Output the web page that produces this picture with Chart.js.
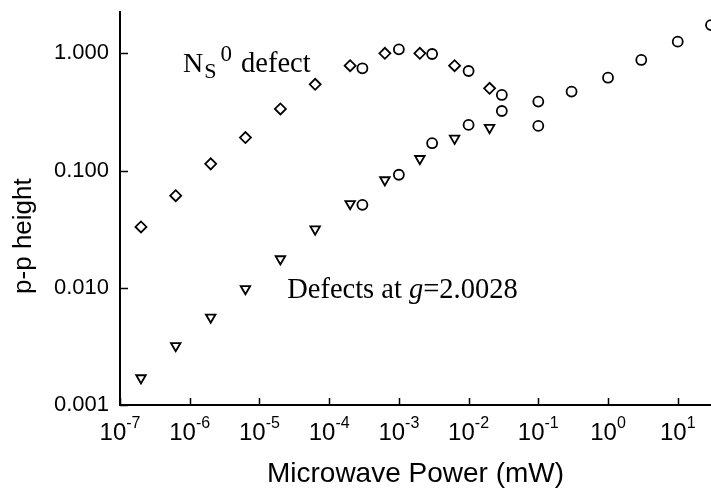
<!DOCTYPE html>
<html>
<head>
<meta charset="utf-8">
<script src="https://cdn.jsdelivr.net/npm/chart.js@4.4.1/dist/chart.umd.min.js"></script>
<style>
  html, body { margin: 0; padding: 0; background: #fff; }
  #wrap { width: 711px; height: 495px; }
</style>
</head>
<body>
<div id="wrap"><canvas id="chart"></canvas></div>
<script>
// Microwave power (mW) for the low-power sweep
const powerLow = [2e-7, 6.3e-7, 2e-6, 6.3e-6, 2e-5, 6.3e-5, 2e-4, 6.3e-4, 2e-3, 6.3e-3, 2e-2];
// p-p height of the Ns0 line (diamonds)
const heightNsLow = [0.033, 0.061, 0.114, 0.191, 0.335, 0.544, 0.784, 1.0, 1.0, 0.784, 0.503];
// p-p height of the g=2.0028 line (triangles)
const heightGLow = [0.0017, 0.0032, 0.0056, 0.0098, 0.0176, 0.0316, 0.052, 0.083, 0.126, 0.188, 0.232];

// high-power sweep (circles)
const powerHigh = [3e-4, 1e-3, 3e-3, 1e-2, 3e-2, 0.1, 0.3, 1, 3, 10, 30];
const heightNsHigh = [0.745, 1.08, 0.986, 0.706, 0.441, 0.387, 0.471, 0.619, 0.877, 1.256, 1.74];
const powerHighG = [3e-4, 1e-3, 3e-3, 1e-2, 3e-2, 0.1];
const heightGHigh = [0.051, 0.092, 0.171, 0.245, 0.322, 0.240];

// decade ticks
const powerTicks = [1e-7, 1e-6, 1e-5, 1e-4, 1e-3, 1e-2, 1e-1, 1, 10];
const powerExponents = ['-7', '-6', '-5', '-4', '-3', '-2', '-1', '0', '1'];
const heightTicks = [0.001, 0.01, 0.1, 1];

// where the labels sit, in data units
const nsLabelAt = [8e-7, 0.69];
const gLabelAt = [2.5e-5, 0.0082];
const yTitleAt = 0.0276;

const pts = (xs, ys) => xs.map((v, i) => ({ x: v, y: ys[i] }));

const SANS = 'Arial, "Liberation Sans", Helvetica, sans-serif';
const SERIF = '"Times New Roman", "Liberation Serif", serif';

const marker = (style, r, extra) => Object.assign({
  pointStyle: style,
  pointRadius: r,
  pointBorderColor: '#000',
  pointBackgroundColor: 'rgba(255,255,255,0)',
  pointBorderWidth: 1.8,
  showLine: false
}, extra || {});

// inward tick marks, the 10^n labels and the y title
const axisMarks = {
  id: 'axisMarks',
  afterDraw(chart) {
    const { ctx, chartArea: a, scales: { x, y } } = chart;
    ctx.save();
    ctx.strokeStyle = '#000';
    ctx.lineWidth = 1.5;
    ctx.beginPath();
    powerTicks.forEach(v => {
      const px = Math.round(x.getPixelForValue(v)) + 0.5;
      ctx.moveTo(px, a.bottom);
      ctx.lineTo(px, a.bottom - 7);
    });
    heightTicks.forEach(v => {
      const py = Math.round(y.getPixelForValue(v)) + 0.5;
      ctx.moveTo(a.left, py);
      ctx.lineTo(a.left + 8, py);
    });
    ctx.stroke();

    ctx.fillStyle = '#000';
    ctx.textBaseline = 'alphabetic';
    powerTicks.forEach((v, i) => {
      const px = x.getPixelForValue(v);
      ctx.font = '24px ' + SANS;
      const wb = ctx.measureText('10').width;
      ctx.font = '16px ' + SANS;
      const we = ctx.measureText(powerExponents[i]).width;
      const left = px - (wb + we) / 2;
      ctx.font = '24px ' + SANS;
      ctx.fillText('10', left, a.bottom + 35);
      ctx.font = '16px ' + SANS;
      ctx.fillText(powerExponents[i], left + wb, a.bottom + 23);
    });

    // y title sits a little below the middle of the axis
    ctx.save();
    ctx.translate(31, y.getPixelForValue(yTitleAt));
    ctx.rotate(-Math.PI / 2);
    ctx.font = '26px ' + SANS;
    ctx.textAlign = 'center';
    ctx.fillText('p-p height', 0, 0);
    ctx.restore();
    ctx.restore();
  }
};

// the "Ns0 defect" and "Defects at g=2.0028" captions
const captions = {
  id: 'captions',
  afterDraw(chart) {
    const { ctx, scales: { x, y } } = chart;
    ctx.save();
    ctx.fillStyle = '#000';
    ctx.textBaseline = 'alphabetic';

    let px = x.getPixelForValue(nsLabelAt[0]);
    let py = y.getPixelForValue(nsLabelAt[1]);
    ctx.font = '28px ' + SERIF;
    ctx.fillText('N', px, py);
    px += ctx.measureText('N').width + 1;
    ctx.font = '22px ' + SERIF;
    ctx.fillText('S', px, py + 6);
    px += ctx.measureText('S').width + 4;
    ctx.font = '23px ' + SERIF;
    ctx.fillText('0', px, py - 11);
    px += ctx.measureText('0').width + 2;
    ctx.font = '28.5px ' + SERIF;
    ctx.fillText(' defect', px, py);

    px = x.getPixelForValue(gLabelAt[0]);
    py = y.getPixelForValue(gLabelAt[1]);
    ctx.font = '28.5px ' + SERIF;
    ctx.fillText('Defects at ', px, py);
    px += ctx.measureText('Defects at ').width;
    ctx.font = 'italic 28.5px ' + SERIF;
    ctx.fillText('g', px, py);
    px += ctx.measureText('g').width;
    ctx.font = '28.5px ' + SERIF;
    ctx.fillText('=2.0028', px, py);
    ctx.restore();
  }
};

new Chart(document.getElementById('chart'), {
  type: 'scatter',
  data: {
    datasets: [
      Object.assign({ label: 'Ns0', data: pts(powerLow, heightNsLow) }, marker('rectRot', 5.5)),
      Object.assign({ label: 'g=2.0028', data: pts(powerLow, heightGLow) }, marker('triangle', 5.5, { rotation: 180 })),
      Object.assign({ label: 'Ns0 high', data: pts(powerHigh, heightNsHigh) }, marker('circle', 5)),
      Object.assign({ label: 'g high', data: pts(powerHighG, heightGHigh) }, marker('circle', 5))
    ]
  },
  options: {
    responsive: true,
    maintainAspectRatio: false,
    animation: false,
    layout: { autoPadding: false, padding: { top: 12, right: 0, bottom: 0, left: 0 } },
    plugins: {
      legend: { display: false },
      tooltip: { enabled: false }
    },
    scales: {
      x: {
        type: 'logarithmic',
        min: 1e-7,
        max: 30,
        grid: { display: false, drawTicks: false },
        border: { display: true, color: '#000', width: 2 },
        ticks: { display: false },
        title: {
          display: true,
          text: 'Microwave Power (mW)',
          color: '#000',
          font: { family: SANS, size: 28 },
          padding: { top: 0, bottom: 4 }
        },
        afterFit(scale) {
          scale.height = 90;
          scale.paddingLeft = 0;
          scale.paddingRight = 0;
        }
      },
      y: {
        type: 'logarithmic',
        min: 0.001,
        max: 2.25,
        grid: { display: false, drawTicks: false },
        border: { display: true, color: '#000', width: 2 },
        afterBuildTicks(scale) {
          scale.ticks = heightTicks.map(v => ({ value: v }));
        },
        ticks: {
          color: '#000',
          padding: 11,
          font: { family: SANS, size: 22 },
          callback: v => v.toFixed(3)
        },
        title: { display: false },
        afterFit(scale) {
          scale.width = 120;
          scale.paddingTop = 0;
          scale.paddingBottom = 0;
        }
      }
    }
  },
  plugins: [axisMarks, captions]
});
</script>
</body>
</html>
